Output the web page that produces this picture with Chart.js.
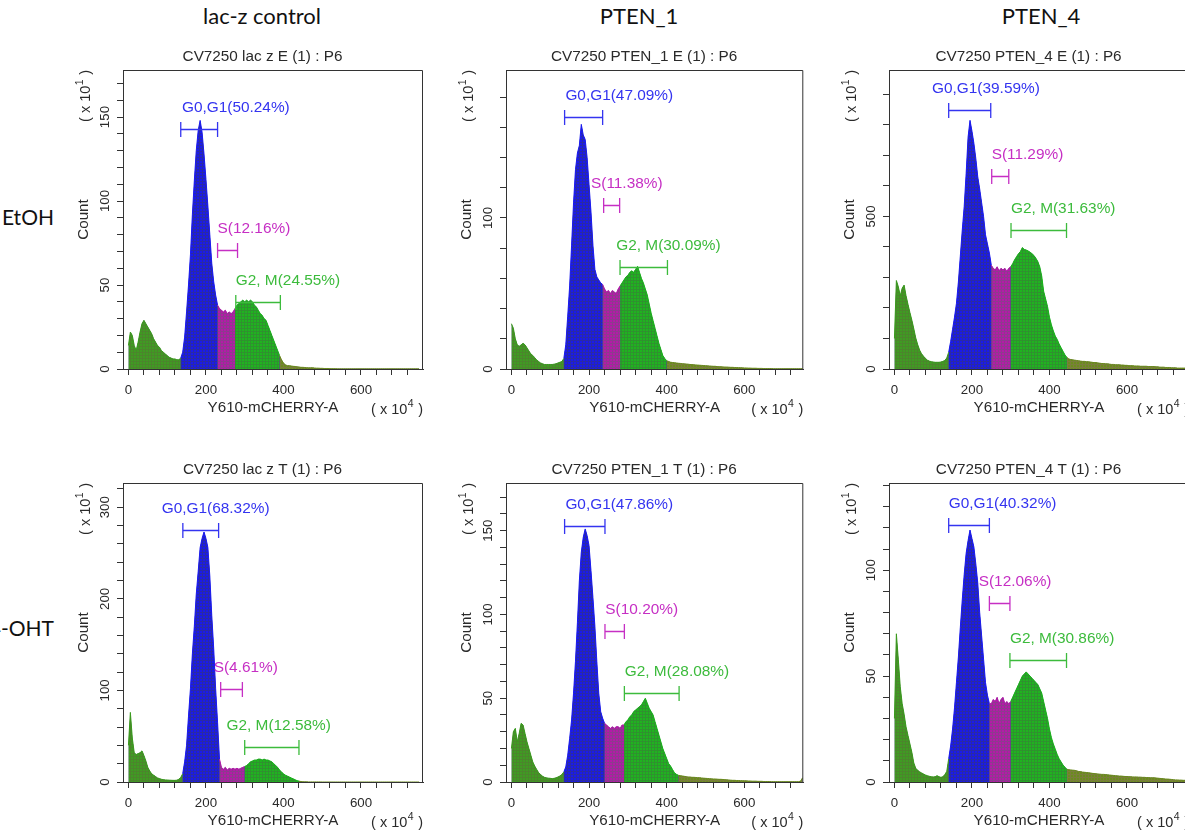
<!DOCTYPE html>
<html>
<head>
<meta charset="utf-8">
<script src="https://cdn.jsdelivr.net/npm/chart.js@4.4.0/dist/chart.umd.min.js"></script>
<style>
  html, body { margin: 0; padding: 0; background: #fff; }
  body { width: 1185px; height: 833px; position: relative; overflow: hidden; }
  .head { position: absolute; font-family: Lato, "Open Sans", sans-serif; font-size: 22px; color: #111; transform: translate(-50%, -50%); white-space: nowrap; }
  .rowlab { position: absolute; font-family: Lato, "Open Sans", sans-serif; font-size: 21px; color: #111; transform: translateY(-50%); white-space: nowrap; }
</style>
</head>
<body>
<script>
// ---------- data ----------
const columnLabels = ['lac-z control', 'PTEN_1', 'PTEN_4'];
const rowLabels = ['EtOH', '4-OHT'];
const panelTitles = [
  'CV7250 lac z E (1) : P6', 'CV7250 PTEN_1 E (1) : P6', 'CV7250 PTEN_4 E (1) : P6',
  'CV7250 lac z T (1) : P6', 'CV7250 PTEN_1 T (1) : P6', 'CV7250 PTEN_4 T (1) : P6'
];
const gateNames = ['G0,G1', 'S', 'G2, M'];
const xTickLabels = [0, 200, 400, 600];
const xMinorTicks = [0, 40, 80, 120, 160, 200, 240, 280, 320, 360, 400, 440, 480, 520, 560, 600, 640, 680, 720];
const binWidth = 5; // histogram bins: 0, 5, 10 ... 750 (x 10^4)

// counts (x 10^1) per bin
const lacZ_E = [
  14, 22, 20, 14, 11, 16, 22, 27, 29, 27,
  25, 23, 21, 18, 16, 14, 13, 11, 10, 9,
  8, 7, 6.5, 6, 6, 5.5, 5.5, 6.5, 10, 19,
  34, 50, 68, 92, 112, 130, 142, 148, 141, 128,
  113, 97, 80, 63, 52, 44, 38, 36, 35, 34,
  35, 33, 34, 33, 34, 36, 38, 39, 40, 41,
  40, 41, 40, 41, 40, 38, 37, 35, 33, 32,
  30, 29, 26, 23, 20, 17, 14, 11, 8, 5.5,
  3.5, 2.5, 2, 2, 1.8, 1.6, 1.5, 1.3, 1.2, 1,
  1, 0.9, 0.8, 0.7, 0.7, 0.8, 0.6, 0.5, 0.5, 0.4,
  0.4, 0.3, 0.3, 0.3, 0.2, 0.2, 0.2, 0.2, 0.1, 0.1,
  0.1, 0.1, 0.1, 0.1, 0.1, 0.1, 0.1, 0.1, 0.1, 0.1,
  0.1, 0.1, 0.1, 0.1, 0.1, 0.1, 0.1, 0.1, 0.1, 0.1,
  0.1, 0.1, 0.1, 0.1, 0.1, 0.1, 0.1, 0.1, 0.1, 0.1,
  0.1, 0.1, 0.1, 0.1, 0.1, 0.1, 0.1, 0.1, 0.1, 0.1,
  0.1
];
const pten1_E = [
  30, 27, 20, 16, 15, 16, 17, 16, 14, 12,
  10, 9, 7.5, 6, 5, 4, 3.5, 3, 3, 3,
  3, 3, 3.2, 3.5, 4, 4.5, 5, 7, 16, 35,
  55, 82, 110, 132, 143, 148, 162, 155, 152, 140,
  122, 104, 82, 66, 61, 59, 57, 56, 53, 51,
  52, 50, 52, 51, 50, 53, 55, 57, 59, 61,
  62, 64, 65, 64, 66, 68, 64, 60, 57, 53,
  49, 43, 37, 32, 27, 22, 17, 13, 9, 7,
  5.5, 5, 4.5, 4.3, 4.2, 4, 3.8, 3.7, 3.5, 3.4,
  3.3, 3.2, 3, 2.9, 2.8, 2.7, 2.6, 2.5, 2.4, 2.3,
  2.2, 2.1, 2, 1.9, 1.8, 1.8, 1.6, 1.5, 1.5, 1.4,
  1.3, 1.3, 1.2, 1.1, 1.1, 1, 1, 0.9, 0.9, 0.8,
  0.7, 0.7, 0.6, 0.6, 0.5, 0.5, 0.5, 0.4, 0.4, 0.4,
  0.3, 0.3, 0.3, 0.3, 0.3, 0.2, 0.2, 0.2, 0.2, 0.2,
  0.2, 0.2, 0.2, 0.2, 0.2, 0.2, 0.2, 0.2, 0.2, 0.2,
  0.2
];
const pten4_E = [
  100, 290, 270, 240, 265, 275, 240, 212, 185, 160,
  132, 102, 80, 62, 50, 42, 35, 29, 26, 24,
  23, 22, 22, 22, 23, 25, 28, 36, 55, 90,
  130, 170, 215, 285, 370, 455, 533, 640, 760, 815,
  780, 740, 690, 630, 590, 545, 500, 440, 410, 380,
  340, 330, 325, 335, 322, 330, 325, 330, 320, 330,
  335, 345, 358, 368, 378, 385, 398, 392, 390, 387,
  383, 378, 372, 363, 352, 335, 305, 255, 230, 205,
  170, 145, 125, 108, 97, 82, 70, 58, 46, 38,
  33, 31, 30, 29, 28, 27, 26, 25, 25, 24,
  24, 23, 22, 21, 21, 20, 19, 18, 18, 17,
  17, 16, 15, 15, 14, 14, 14, 13, 13, 12,
  12, 11, 11, 11, 10, 10, 10, 9, 9, 9,
  9, 8, 8, 8, 8, 7, 7, 6, 6, 6,
  5, 5, 5, 4, 4, 4, 3, 3, 3, 3,
  3
];
const lacZ_T = [
  40, 76, 48, 32, 30, 31, 32, 34, 29, 23,
  16, 12, 9, 7.5, 6, 4.5, 3.7, 3, 2.6, 2.3,
  2.2, 2, 1.9, 1.8, 1.8, 2, 3, 5, 9, 22,
  40, 72, 102, 140, 170, 205, 230, 256, 266, 273,
  266, 256, 225, 182, 146, 102, 65, 25, 16, 14,
  16, 13, 15, 14, 15, 14, 15, 14, 15, 16,
  17, 18, 20, 22, 23, 24, 24, 25, 25, 24,
  25, 24, 24, 23, 22, 20, 18, 16, 13, 11,
  9, 7.5, 6.5, 5.5, 4.5, 3.5, 2.5, 1.5, 1, 0.5,
  0.3, 0.2, 0.2, 0.1, 0.1, 0.1, 0.1, 0.1, 0.1, 0.1,
  0, 0, 0, 0, 0, 0, 0, 0, 0, 0,
  0, 0, 0, 0, 0, 0, 0, 0, 0, 0,
  0, 0, 0, 0, 0, 0, 0, 0, 0, 0,
  0, 0, 0, 0, 0, 0, 0, 0, 0, 0,
  0, 0, 0, 0, 0, 0, 0, 0, 0, 0,
  0
];
const pten1_T = [
  20, 30, 32, 24, 29, 35, 34, 29, 24, 20,
  16, 12, 9.5, 7.5, 5.6, 4.5, 3.5, 2.8, 2.5, 2.3,
  2.2, 2, 2.2, 2.5, 3, 3.6, 4.5, 6, 9, 16,
  26, 37, 53, 72, 95, 120, 137, 146, 151, 147,
  141, 126, 110, 93, 72, 53, 42, 38, 35, 34,
  33, 32, 33, 32, 33, 33, 32, 34, 34, 36,
  37, 39, 40, 42, 43, 44, 45, 46, 48, 50,
  47, 44, 42, 40, 36, 32, 28, 24, 20, 17,
  14, 11, 9.5, 7.5, 5.5, 4.6, 4, 3.8, 3.6, 3.4,
  3.2, 3, 3, 2.8, 2.8, 2.7, 2.6, 2.6, 2.4, 2.3,
  2.2, 2.1, 2, 1.9, 1.8, 1.8, 1.7, 1.6, 1.6, 1.5,
  1.4, 1.3, 1.2, 1.1, 1, 1, 0.9, 0.9, 0.8, 0.8,
  0.7, 0.7, 0.6, 0.6, 0.5, 0.5, 0.5, 0.4, 0.4, 0.4,
  0.3, 0.3, 0.3, 0.3, 0.2, 0.2, 0.2, 0.2, 0.2, 0.2,
  0.2, 0.2, 0.2, 0.2, 0.2, 0.2, 0.2, 0.2, 0.2, 0.5,
  2.5
];
const pten4_T = [
  30, 70, 58, 45, 37, 32, 26, 22, 18, 14,
  9, 6.5, 5.5, 4.8, 4.3, 3.8, 3.3, 3, 2.7, 2.5,
  2.4, 2.5, 3, 2.5, 2.2, 2.5, 3.5, 5, 11, 17,
  25, 35, 47, 59, 73, 86, 98, 108, 114, 119,
  115, 111, 103, 94, 80, 69, 58, 47, 41, 37,
  37, 39, 38, 40, 37, 39, 40, 37, 38, 37,
  38, 40, 42, 44, 46, 48, 50, 51, 52, 51,
  50, 49, 48, 47, 46, 44, 42, 38, 34, 30,
  25, 21, 18, 15.5, 13, 11, 9.5, 8, 7, 6,
  5.8, 5.7, 5.6, 5.5, 5.3, 5, 4.9, 4.7, 4.6, 4.5,
  4.4, 4.3, 4.1, 4, 3.9, 3.8, 3.7, 3.6, 3.6, 3.5,
  3.4, 3.3, 3.2, 3.1, 3, 2.9, 2.8, 2.8, 2.7, 2.6,
  2.6, 2.5, 2.5, 2.4, 2.4, 2.4, 2.3, 2.3, 2.2, 2.2,
  2.1, 2.1, 2, 2, 2, 1.9, 1.8, 1.7, 1.6, 1.5,
  1.4, 1.4, 1.3, 1.2, 1.1, 1, 1, 0.9, 0.9, 0.8,
  0.8
];

// gate ranges [start, end] (x 10^4) for G0/G1, S, G2/M
const gates_lacZ_E = [[135, 230], [230, 281.5], [277, 392]];
const gates_pten1_E = [[137, 235], [237.6, 278.8], [279.8, 402]];
const gates_pten4_E = [[140, 248.5], [251, 295], [300.8, 444]];
const gates_lacZ_T = [[140.4, 232.7], [238, 294], [300, 440]];
const gates_pten1_T = [[137, 241], [241, 291], [291, 432]];
const gates_pten4_T = [[140, 245], [245, 298], [298, 444]];

// gate percentages
const pct_lacZ_E = [50.24, 12.16, 24.55];
const pct_pten1_E = [47.09, 11.38, 30.09];
const pct_pten4_E = [39.59, 11.29, 31.63];
const pct_lacZ_T = [68.32, 4.61, 12.58];
const pct_pten1_T = [47.86, 10.20, 28.08];
const pct_pten4_T = [40.32, 12.06, 30.86];

// labelled y ticks
const yTicks_lacZ_E = [0, 50, 100, 150];
const yTicks_pten1_E = [0, 100];
const yTicks_pten4_E = [0, 500];
const yTicks_lacZ_T = [0, 100, 200, 300];
const yTicks_pten1_T = [0, 50, 100, 150];
const yTicks_pten4_T = [0, 50, 100];

const panels = [
  { title: panelTitles[0], counts: lacZ_E, gates: gates_lacZ_E, pct: pct_lacZ_E, yLabels: yTicks_lacZ_E },
  { title: panelTitles[1], counts: pten1_E, gates: gates_pten1_E, pct: pct_pten1_E, yLabels: yTicks_pten1_E },
  { title: panelTitles[2], counts: pten4_E, gates: gates_pten4_E, pct: pct_pten4_E, yLabels: yTicks_pten4_E },
  { title: panelTitles[3], counts: lacZ_T, gates: gates_lacZ_T, pct: pct_lacZ_T, yLabels: yTicks_lacZ_T },
  { title: panelTitles[4], counts: pten1_T, gates: gates_pten1_T, pct: pct_pten1_T, yLabels: yTicks_pten1_T },
  { title: panelTitles[5], counts: pten4_T, gates: gates_pten4_T, pct: pct_pten4_T, yLabels: yTicks_pten4_T }
];

// ---------- layout (axis extents, gate-marker placement in data units) ----------
const layout = [
  { yMax: 178, yStep: 10, bars: [142.7, 70.8, 40.1], labelX: [138, 230, 277] },
  { yMax: 198, yStep: 20, bars: [167, 108.8, 67.5], labelX: [139, 205, 270] },
  { yMax: 980, yStep: 100, bars: [850, 631, 456], labelX: [97, 251, 301] },
  { yMax: 326.5, yStep: 20, bars: [274.8, 101.9, 38.2], labelX: [86, 220, 253] },
  { yMax: 178.4, yStep: 10, bars: [153, 90, 52.9], labelX: [139, 242, 292] },
  { yMax: 141.2, yStep: 10, bars: [121.6, 84.6, 57.4], labelX: [140, 217.5, 298] }
];
const colXMax = [760, 752, 760];
const colPadRight = [3, 5.7, 3];

const FONT = '"Liberation Sans", Arial, sans-serif';
const gateColors = ['#3434f0', '#c62fc4', '#3cbb3c'];

function hatch(base, line) {
  const c = document.createElement('canvas');
  c.width = 3; c.height = 3;
  const g = c.getContext('2d');
  g.fillStyle = base; g.fillRect(0, 0, 3, 3);
  g.fillStyle = line; g.fillRect(0, 0, 3, 1); g.fillRect(0, 0, 1, 3);
  return g.createPattern(c, 'repeat');
}
// debris, G0/G1, S, G2/M, tail
const fills = [
  hatch('#3f9c22', '#4b862c'),
  hatch('#1a1aec', '#2a2aa6'),
  hatch('#b51aa8', '#8e3a8e'),
  hatch('#1fb41f', '#2f922f'),
  hatch('#6b8c1e', '#7a7f3c')
];
const edges = ['#3a9a1c', '#1a1af0', '#b01aa8', '#1ab21a', '#6a8a1a'];

function regionOf(v, g) {
  if (v < g[0][0]) return 0;
  if (v < g[0][1]) return 1;
  if (v < g[2][0]) return 2;
  if (v < g[2][1]) return 3;
  return 4;
}

function drawPow(ctx, exp, px, py, vertical) {
  ctx.save();
  ctx.translate(px, py);
  if (vertical) ctx.rotate(-Math.PI / 2);
  const big = `14.5px ${FONT}`, small = `10.5px ${FONT}`;
  ctx.font = big;
  const w1 = ctx.measureText('( x 10').width, w3 = ctx.measureText(' )').width;
  ctx.font = small;
  const w2 = ctx.measureText(exp).width + 1;
  let u = -(w1 + w2 + w3);
  ctx.textAlign = 'left';
  ctx.textBaseline = 'middle';
  ctx.font = big; ctx.fillText('( x 10', u, 0); u += w1;
  ctx.font = small; ctx.fillText(exp, u + 0.5, -6); u += w2;
  ctx.font = big; ctx.fillText(' )', u, 0);
  ctx.restore();
}

function decor(p, L) {
  return {
    id: 'decor',
    afterDraw(chart) {
      const { ctx, chartArea: a, scales: { x, y } } = chart;
      const cx = (a.left + a.right) / 2;
      ctx.save();
      // top / right frame
      ctx.strokeStyle = '#333';
      ctx.lineWidth = 1;
      ctx.beginPath();
      ctx.moveTo(a.left, a.top + 0.5);
      ctx.lineTo(a.right - 0.5, a.top + 0.5);
      ctx.lineTo(a.right - 0.5, a.bottom);
      ctx.stroke();

      ctx.fillStyle = '#2a2a2a';
      ctx.textAlign = 'center';
      ctx.textBaseline = 'middle';
      ctx.font = `15.3px ${FONT}`;
      ctx.fillText(p.title, cx - 10.5, a.top - 13);
      ctx.font = `15.2px ${FONT}`;
      ctx.fillText('Y610-mCHERRY-A', cx, a.bottom + 39);

      // rotated y tick labels
      ctx.font = `13.3px ${FONT}`;
      p.yLabels.forEach(v => {
        ctx.save();
        ctx.translate(a.left - 17.5, y.getPixelForValue(v));
        ctx.rotate(-Math.PI / 2);
        ctx.fillText(String(v), 0, 0);
        ctx.restore();
      });
      ctx.save();
      ctx.translate(a.left - 39.5, (a.top + a.bottom) / 2);
      ctx.rotate(-Math.PI / 2);
      ctx.font = `15.2px ${FONT}`;
      ctx.fillText('Count', 0, 0);
      ctx.restore();

      drawPow(ctx, '1', a.left - 37, a.top, true);
      drawPow(ctx, '4', a.right, a.bottom + 41, false);

      // gate markers
      p.gates.forEach((g, k) => {
        const x0 = x.getPixelForValue(g[0]), x1 = x.getPixelForValue(g[1]);
        const yb = Math.round(y.getPixelForValue(L.bars[k])) + 0.5;
        ctx.strokeStyle = gateColors[k];
        ctx.lineWidth = 1.3;
        ctx.beginPath();
        ctx.moveTo(x0, yb); ctx.lineTo(x1, yb);
        ctx.moveTo(x0, yb - 7.5); ctx.lineTo(x0, yb + 7.5);
        ctx.moveTo(x1, yb - 7.5); ctx.lineTo(x1, yb + 7.5);
        ctx.stroke();
        ctx.fillStyle = gateColors[k];
        ctx.font = `15.4px ${FONT}`;
        ctx.textAlign = 'left';
        ctx.fillText(`${gateNames[k]}(${p.pct[k].toFixed(2)}%)`, x.getPixelForValue(L.labelX[k]), yb - 22);
      });
      ctx.restore();
    }
  };
}

// headers
const headX = [262, 639, 1041];
columnLabels.forEach((t, i) => {
  const d = document.createElement('div');
  d.className = 'head';
  d.textContent = t;
  d.style.left = headX[i] + 'px';
  d.style.top = '15px';
  document.body.appendChild(d);
});
rowLabels.forEach((t, i) => {
  const d = document.createElement('div');
  d.className = 'rowlab';
  d.textContent = t;
  d.style.right = (1185 - 54) + 'px';
  d.style.top = (216 + i * 411) + 'px';
  document.body.appendChild(d);
});

const charts = panels.map((p, i) => {
  const L = layout[i];
  const col = i % 3, row = Math.floor(i / 3);
  const cv = document.createElement('canvas');
  cv.width = 386;
  cv.height = 380;
  cv.style.position = 'absolute';
  cv.style.left = (40 + col * 383) + 'px';
  cv.style.top = (40 + row * 413) + 'px';
  document.body.appendChild(cv);

  const bins = p.counts.map((_, k) => k * binWidth);
  const points = p.counts.map((c, k) => ({ x: bins[k], y: c }));
  const mid = s => (s.p0.parsed.x + s.p1.parsed.x) / 2;

  return new Chart(cv, {
    type: 'line',
    data: {
      datasets: [{
        data: points,
        order: 0,
        fill: 'origin',
        pointRadius: 0,
        borderWidth: 1,
        tension: 0,
        backgroundColor: fills[0],
        borderColor: edges[0],
        segment: {
          backgroundColor: s => fills[regionOf(mid(s), p.gates)],
          borderColor: s => edges[regionOf(mid(s), p.gates)]
        }
      }, {
        // solid underlay so region seams don't show white
        data: points,
        order: 1,
        fill: 'origin',
        pointRadius: 0,
        borderWidth: 0,
        tension: 0,
        backgroundColor: '#4a4a8a'
      }]
    },
    options: {
      responsive: false,
      animation: false,
      events: [],
      layout: { padding: { left: 0, right: colPadRight[col], top: 30, bottom: 0 } },
      plugins: { legend: { display: false }, tooltip: { enabled: false } },
      scales: {
        x: {
          type: 'linear',
          min: -14,
          max: colXMax[col],
          afterBuildTicks: s => { s.ticks = xMinorTicks.map(v => ({ value: v })); },
          afterFit: s => { s.height = 51; },
          ticks: {
            autoSkip: false, maxRotation: 0, padding: 7, color: '#2a2a2a',
            font: { family: FONT, size: 13.3 },
            callback: v => xTickLabels.includes(v) ? String(v) : ''
          },
          grid: { drawOnChartArea: false, tickLength: 6, color: '#333' },
          border: { color: '#333', width: 1 }
        },
        y: {
          min: 0,
          max: L.yMax,
          afterBuildTicks: s => {
            const t = [];
            for (let v = 0; v <= L.yMax; v += L.yStep) t.push({ value: v });
            s.ticks = t;
          },
          afterFit: s => { s.width = 83; },
          ticks: { display: false },
          grid: { drawOnChartArea: false, tickLength: 6, color: '#333' },
          border: { color: '#333', width: 1 }
        }
      }
    },
    plugins: [decor(p, L)]
  });
});
</script>
</body>
</html>
